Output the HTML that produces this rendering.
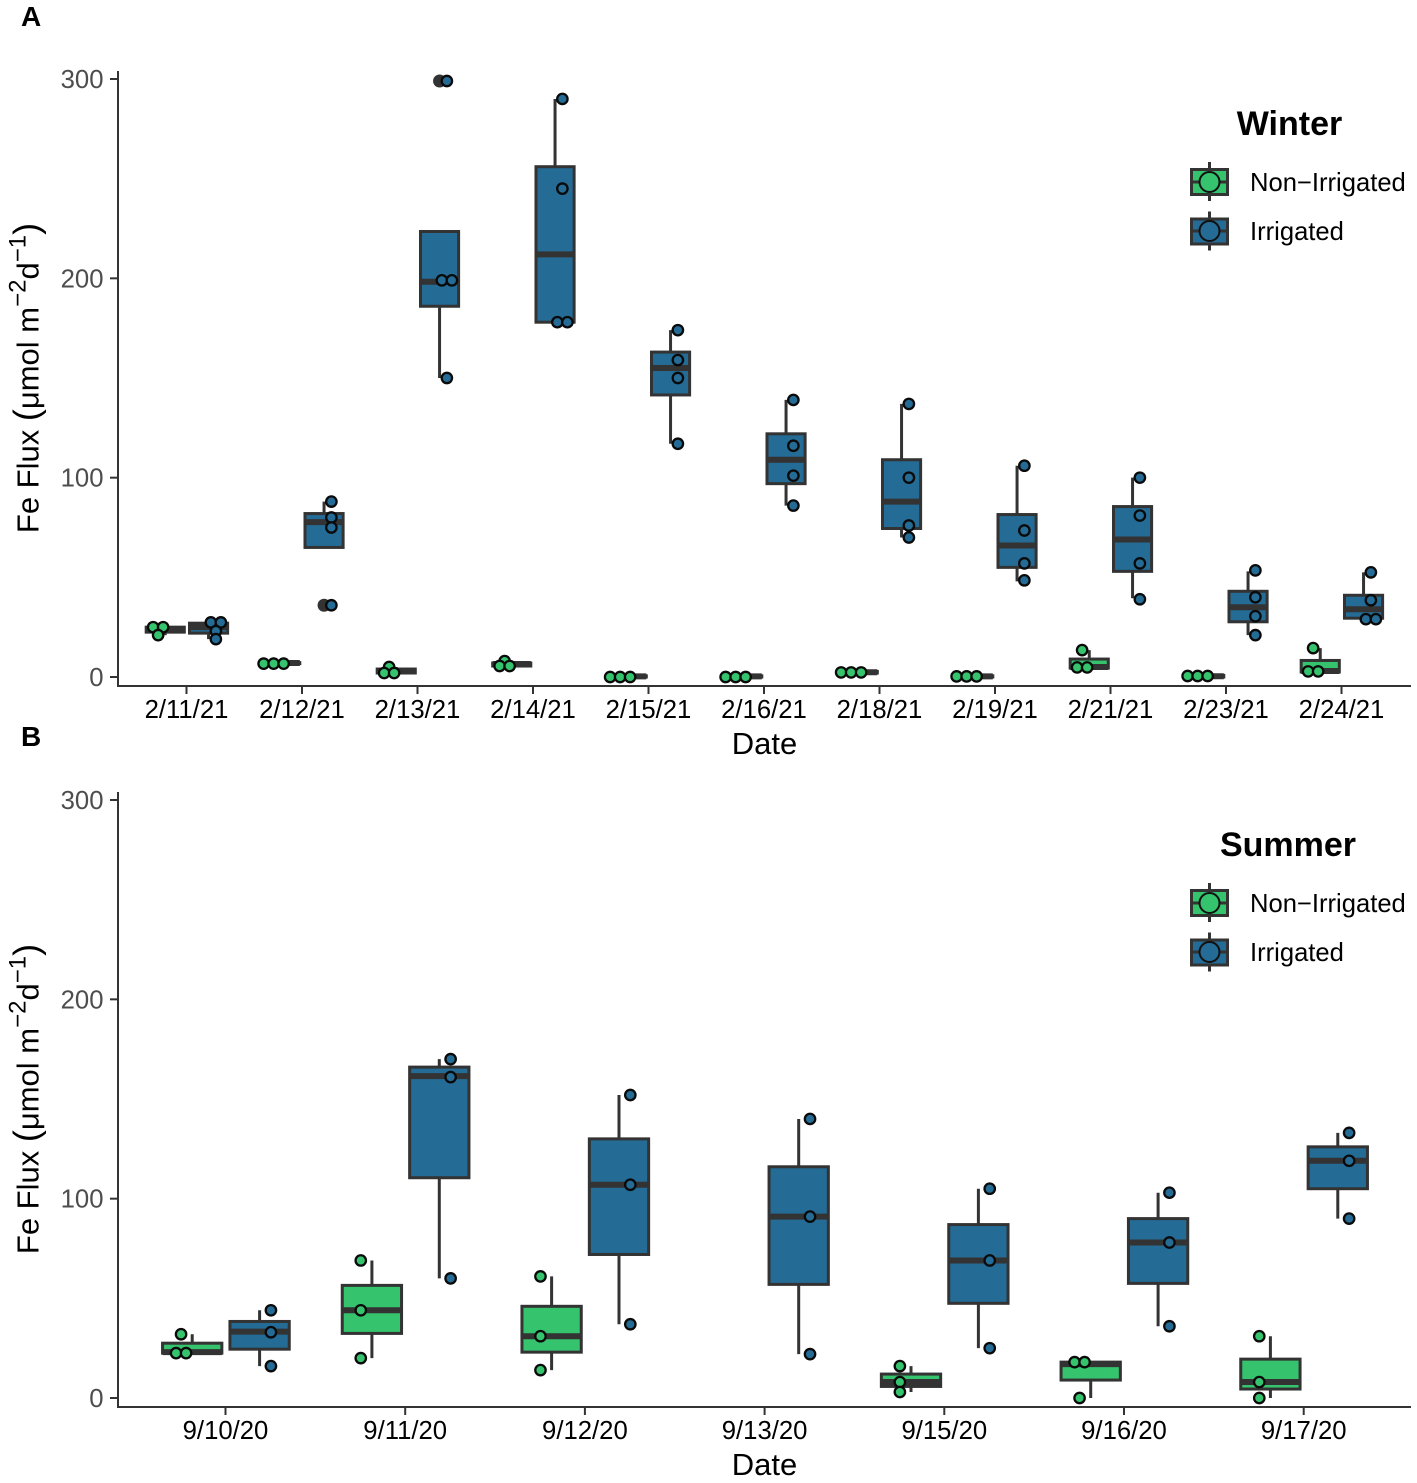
<!DOCTYPE html>
<html>
<head>
<meta charset="utf-8">
<title>Fe Flux boxplots</title>
<style>
html,body{margin:0;padding:0;background:#fff;}
svg{display:block;font-family:"Liberation Sans",Arial,sans-serif;}
</style>
</head>
<body>
<svg id="chart" xmlns="http://www.w3.org/2000/svg" width="1417" height="1483" viewBox="0 0 1417 1483">
  <rect width="1417" height="1483" fill="#ffffff"/>
  <text x="21" y="26" font-size="28" font-weight="bold">A</text>
  <text x="21" y="746" font-size="28" font-weight="bold">B</text>

  <g>
    <text x="1289.5" y="135" font-size="34" font-weight="bold" text-anchor="middle">Winter</text>
    <g>
      <line x1="1209.5" x2="1209.5" y1="162" y2="201" stroke="#333" stroke-width="3"/>
      <rect x="1191.5" y="169.5" width="36" height="25" fill="#35c36e" stroke="#333" stroke-width="3"/>
      <line x1="1191.5" x2="1227.5" y1="182" y2="182" stroke="#333" stroke-width="3"/>
      <circle cx="1209.5" cy="182" r="10" fill="#35c36e" stroke="#111" stroke-width="2"/>
      <text x="1250" y="191" font-size="25.6">Non−Irrigated</text>
    </g>
    <g>
      <line x1="1209.5" x2="1209.5" y1="211.5" y2="250.5" stroke="#333" stroke-width="3"/>
      <rect x="1191.5" y="219" width="36" height="25" fill="#246b96" stroke="#333" stroke-width="3"/>
      <line x1="1191.5" x2="1227.5" y1="231" y2="231" stroke="#333" stroke-width="3"/>
      <circle cx="1209.5" cy="231" r="10" fill="#246b96" stroke="#111" stroke-width="2"/>
      <text x="1250" y="240" font-size="25.6">Irrigated</text>
    </g>
  </g>

  <g>
    <text x="1288" y="856" font-size="34" font-weight="bold" text-anchor="middle">Summer</text>
    <g>
      <line x1="1209.5" x2="1209.5" y1="883" y2="922" stroke="#333" stroke-width="3"/>
      <rect x="1191.5" y="890.5" width="36" height="25" fill="#35c36e" stroke="#333" stroke-width="3"/>
      <line x1="1191.5" x2="1227.5" y1="903" y2="903" stroke="#333" stroke-width="3"/>
      <circle cx="1209.5" cy="903" r="10" fill="#35c36e" stroke="#111" stroke-width="2"/>
      <text x="1250" y="912" font-size="25.6">Non−Irrigated</text>
    </g>
    <g>
      <line x1="1209.5" x2="1209.5" y1="932.5" y2="971.5" stroke="#333" stroke-width="3"/>
      <rect x="1191.5" y="940" width="36" height="25" fill="#246b96" stroke="#333" stroke-width="3"/>
      <line x1="1191.5" x2="1227.5" y1="952" y2="952" stroke="#333" stroke-width="3"/>
      <circle cx="1209.5" cy="952" r="10" fill="#246b96" stroke="#111" stroke-width="2"/>
      <text x="1250" y="961" font-size="25.6">Irrigated</text>
    </g>
  </g>
</svg>
<script>
// ---- Data (stats rows: [whisker low, q1, median, q3, whisker high]) ----
const yTickValues = [0, 100, 200, 300];

const winterDates = ["2/11/21","2/12/21","2/13/21","2/14/21","2/15/21","2/16/21","2/18/21","2/19/21","2/21/21","2/23/21","2/24/21"];
const winterGreenStats = [
  [21,22.5,24,25,25],[6.7,6.7,7,7.2,7.2],[2,2,3,4,5],[5.5,5.5,6.5,7,8],[0,0,0.3,0.6,0.6],[0,0,0.3,0.6,0.6],
  [2.3,2,2.4,2.8,2.8],[0.3,0,0.3,0.6,0.6],[4.8,4.5,5,9,13.5],[0.5,0,0.4,0.8,0.8],[2.8,2.5,3,8.3,14.5]
];
const winterGreenPoints = [
  [25,25,21],[6.7,6.7,6.7],[5,2,2],[8,5.5,5.5],[0,0,0],[0,0,0],[2.3,2.3,2.3],[0.3,0.3,0.3],[13.5,4.8,4.8],[0.5,0.5,0.5],[14.5,2.8,2.8]
];
const winterBlueStats = [
  [19,22,25,27,27],[65,65,77.7,82,88],[150,186,198.3,223.5,223.5],[178,178,212,256,290],[117,141.5,155,163,174],[86,97,109,122,139],
  [70,74.5,88,109,137],[48,55,66,81.5,106],[39.5,53,69,85.5,100],[21,27.7,35,43,53],[29.5,29.5,34,41,52.5]
];
const winterBluePoints = [
  [27.4,27.4,23,19],[88,80,75,36],[299,199,199,150],[290,245,178,178],[174,159,150,117],[139,116,101,86],
  [137,100,76,70],[106,73.5,57,48.5],[100,81,57,39],[53.5,40,30.5,21],[52.5,38.5,29,29]
];
const winterBlueOutliers = [[],[36],[299],[],[],[],[],[],[],[],[]];

const summerDates = ["9/10/20","9/11/20","9/12/20","9/13/20","9/15/20","9/16/20","9/17/20"];
const summerGreenStats = [
  [22.5,22.5,23,27.5,32],[20,32.4,44,56.5,69],[14,23,31,46,61],null,[3,5.8,8,12,16],[0,9,17,18,18],[0,4.5,8,19.5,31]
];
const summerGreenPoints = [
  [32,22.5,22.5],[69,44,20],[61,31,14],[],[16,8,3],[18,18,0],[31,8,0]
];
const summerBlueStats = [
  [16,24.5,33.3,38.4,44],[60,110.5,161.5,166,170],[37,72,107,130,152],[22,57,91,116,140],[25,47.5,69,87,105],[36,57.5,78,90,103],[90,105,119,126,133]
];
const summerBluePoints = [
  [44,33,16],[170,161,60],[152,107,37],[140,91,22],[105,69,25],[103,78,36],[133,119,90]
];

// ---- Drawing ----
const svg = document.getElementById('chart');
const NS = 'http://www.w3.org/2000/svg';
const GREEN = '#35c36e';
const BLUE = '#246b96';
const DARK = '#333333';

function mk(tag, attrs, parent) {
  const el = document.createElementNS(NS, tag);
  for (const k in attrs) el.setAttribute(k, attrs[k]);
  parent.appendChild(el);
  return el;
}

function drawSeries(g, xCenter, yScale, band, stats, points, outliers, fill, sign, label) {
  const boxOffset = band * 0.1875 * sign + 0.4;
  const pointOffset = band * 0.25 * sign + 0.5;
  const boxWidth = band * 0.33;
  stats.forEach(function (s, i) {
    if (!s) return;
    const cx = xCenter(i) + boxOffset;
    const whisker = mk('path', {
      d: 'M' + cx + ' ' + yScale(s[0]) + 'V' + yScale(s[1]) + 'M' + cx + ' ' + yScale(s[3]) + 'V' + yScale(s[4]),
      stroke: DARK, 'stroke-width': 3, fill: 'none'
    }, g);
    
    
    const box = mk('rect', {
      x: cx - boxWidth / 2, y: yScale(s[3]), width: boxWidth, height: yScale(s[1]) - yScale(s[3]),
      fill: fill, stroke: DARK, 'stroke-width': 3
    }, g);
    
    
    const median = mk('line', {
      x1: cx - boxWidth / 2, x2: cx + boxWidth / 2, y1: yScale(s[2]), y2: yScale(s[2]),
      stroke: DARK, 'stroke-width': 6
    }, g);
    
    
    (outliers ? outliers[i] : []).forEach(function (v) {
      const o = mk('circle', { cx: cx, cy: yScale(v), r: 6.5, fill: DARK }, g);
      
      
    });
  });
  points.forEach(function (vals, i) {
    const cx = xCenter(i) + pointOffset;
    const used = new Map();
    vals.forEach(function (v) {
      const same = vals.filter(function (w) { return w === v; }).length;
      const nth = used.get(v) || 0;
      used.set(v, nth + 1);
      const px = cx + (nth - (same - 1) / 2) * 10;
      const p = mk('circle', { cx: px, cy: yScale(v), r: 5.2, fill: fill, stroke: '#0a0a0a', 'stroke-width': 2.3 }, g);
      
      
    });
  });
}

function drawPanel(off, name, dates, firstTick, band, gs, gp, bs, bp, bo) {
  const g = mk('g', {}, svg);
  
  
  const y0 = 677 + off;
  const yScale = function (v) { return y0 - v * 1.9933; };
  const xCenter = function (i) { return firstTick + i * band; };
  const axisY = 686 + off;

  drawSeries(g, xCenter, yScale, band, gs, gp, null, GREEN, -1, name + '-non-irrigated');
  drawSeries(g, xCenter, yScale, band, bs, bp, bo, BLUE, 1, name + '-irrigated');

  const yAxis = mk('line', { x1: 118, x2: 118, y1: 71 + off, y2: axisY + 1, stroke: DARK, 'stroke-width': 2 }, g);
  
  
  const xAxis = mk('line', { x1: 117, x2: 1411, y1: axisY, y2: axisY, stroke: DARK, 'stroke-width': 2 }, g);
  
  

  yTickValues.forEach(function (v) {
    const t = mk('line', { x1: 110, x2: 118, y1: yScale(v), y2: yScale(v), stroke: DARK, 'stroke-width': 2 }, g);
    
    
    const l = mk('text', { x: 103.5, y: yScale(v) + 9, 'font-size': 25.7, 'text-anchor': 'end', fill: '#4d4d4d' }, g);
    l.textContent = v;
    
    
  });
  dates.forEach(function (d, i) {
    const t = mk('line', { x1: xCenter(i), x2: xCenter(i), y1: axisY, y2: axisY + 8, stroke: DARK, 'stroke-width': 2 }, g);
    
    
    const l = mk('text', { x: xCenter(i), y: 718 + off, 'font-size': 25.7, 'text-anchor': 'middle', fill: '#000' }, g);
    l.textContent = d;
    
    
  });

  const xTitle = mk('text', { x: 764.5, y: 754 + off, 'font-size': 31, 'text-anchor': 'middle', fill: '#000' }, g);
  xTitle.textContent = 'Date';
  
  

  const yTitle = mk('text', {
    transform: 'translate(38.5,' + (378 + off) + ') rotate(-90)',
    'font-size': 31, 'text-anchor': 'middle', fill: '#000'
  }, g);
  
  
  const parts = [
    ['Fe Flux ', 31, 0], ['(', 36, 0], ['μ', 31, 0], ['mol m', 31, 0],
    ['−2', 24, -13], ['d', 31, 13], ['−1', 24, -13], [')', 36, 13]
  ];
  parts.forEach(function (p) {
    const s = mk('tspan', { 'font-size': p[1], dy: p[2] }, yTitle);
    s.textContent = p[0];
  });
}

drawPanel(0, 'winter', winterDates, 186.5, 115.5, winterGreenStats, winterGreenPoints, winterBlueStats, winterBluePoints, winterBlueOutliers);
drawPanel(721, 'summer', summerDates, 225.5, 179.7, summerGreenStats, summerGreenPoints, summerBlueStats, summerBluePoints, null);
</script>
</body>
</html>
